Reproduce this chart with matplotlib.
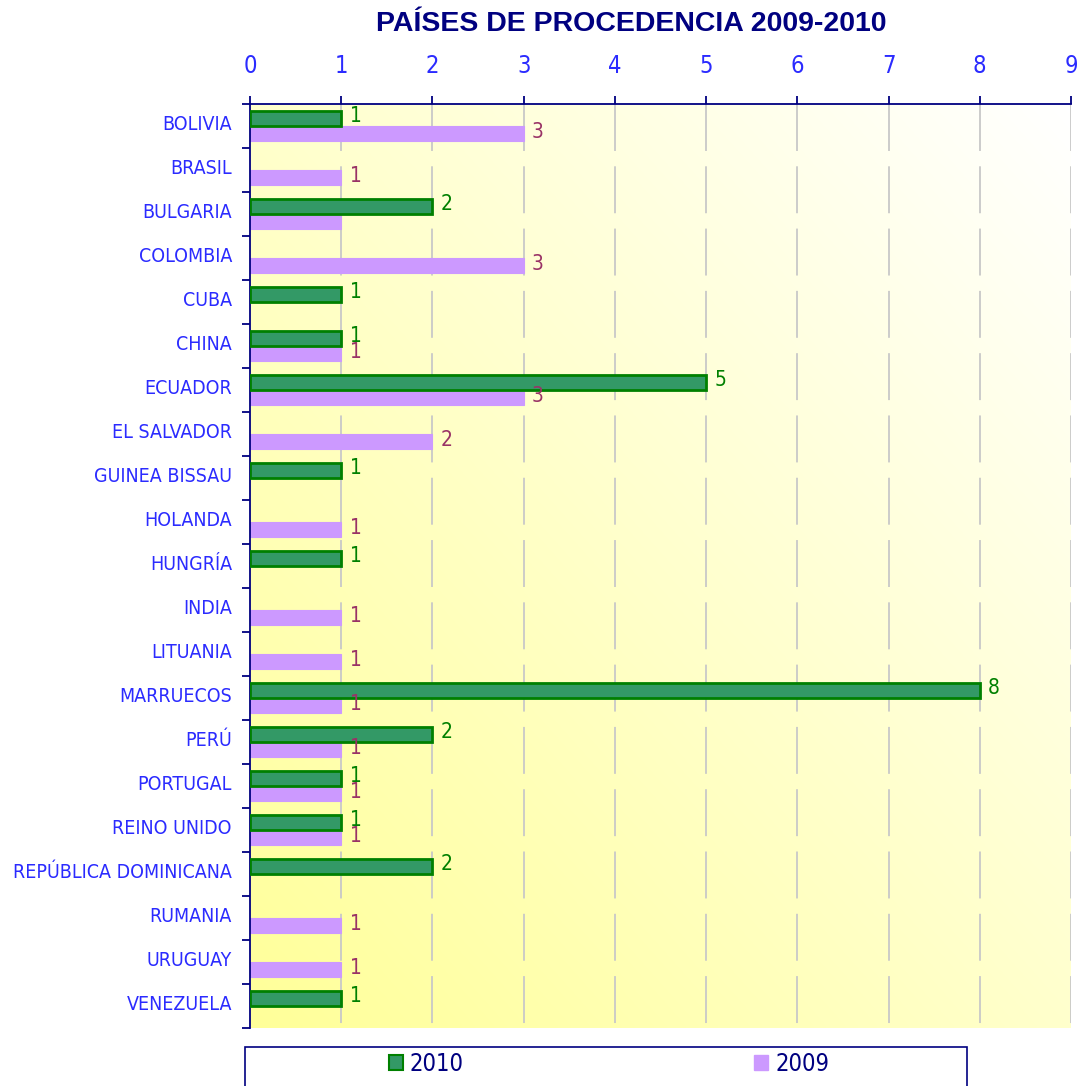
import numpy as np
import matplotlib
matplotlib.use("Agg")
import matplotlib.pyplot as plt
from matplotlib.patches import Patch, Rectangle
from matplotlib.colors import LinearSegmentedColormap
from matplotlib.transforms import ScaledTranslation

paises = [
	"BOLIVIA", "BRASIL", "BULGARIA", "COLOMBIA", "CUBA", "CHINA", "ECUADOR",
	"EL SALVADOR", "GUINEA BISSAU", "HOLANDA", "HUNGRÍA", "INDIA", "LITUANIA",
	"MARRUECOS", "PERÚ", "PORTUGAL", "REINO UNIDO", "REPÚBLICA DOMINICANA",
	"RUMANIA", "URUGUAY", "VENEZUELA",
]
v2010 = [1, 0, 2, 0, 1, 1, 5, 0, 1, 0, 1, 0, 0, 8, 2, 1, 1, 2, 0, 0, 1]
v2009 = [3, 1, 1, 3, 0, 1, 3, 2, 0, 1, 0, 1, 1, 1, 1, 1, 1, 0, 1, 1, 0]
# the 2009 label for Bulgaria does not show in the original
sin_etiqueta_2009 = ["BULGARIA"]
xticks = list(range(0, 10))

# narrow look, like the Arial Narrow of the original
plt.rcParams["font.family"] = ["DejaVu Sans"]
plt.rcParams["font.stretch"] = "condensed"

W, H = 1082, 1086
fig = plt.figure(figsize=(W/100, H/100), dpi=100)

def fx(px):
	return px/W

def fy(py):
	return 1 - py/H

ax = fig.add_axes([fx(250), fy(1028), fx(1071) - fx(250), fy(104) - fy(1028)])

n = len(paises)
y = np.arange(n)
h = 0.33

# background: diagonal gradient, yellow bottom left to white top right
cmap = LinearSegmentedColormap.from_list("fondo", ["#FFFF99", "#FFFFFF"])
gx, gy = np.meshgrid(np.linspace(0, 1, 200), np.linspace(0, 1, 200))
grad = (gx + (1 - gy))/2
ax.imshow(grad, cmap=cmap, extent=(0, 9, n - 0.5, -0.5), aspect="auto",
	zorder=0, interpolation="bilinear", vmin=0, vmax=1)

# dashed vertical gridlines, dash phase from the top
ax.vlines(xticks[1:], -0.5, n - 0.5, colors="#C8C8C8", linewidth=1.3,
	linestyles=(0, (26, 8.5)), zorder=1)

i10 = [i for i in range(n) if v2010[i] > 0]
i09 = [i for i in range(n) if v2009[i] > 0]

ax.barh(y[i09] + h/2, np.array(v2009)[i09], height=h, color="#CC99FF",
	edgecolor="#CC99FF", linewidth=0.8, zorder=2)
ax.barh(y[i10] - h/2, np.array(v2010)[i10], height=h, color="#339966",
	edgecolor="#008000", linewidth=2, zorder=3)

for i in i10:
	ax.annotate(str(v2010[i]), (v2010[i], y[i] - h/2), xytext=(6, 2),
		textcoords="offset points", va="center", ha="left",
		fontsize=15, color="#008000", zorder=5)
for i in i09:
	if paises[i] in sin_etiqueta_2009:
		continue
	ax.annotate(str(v2009[i]), (v2009[i], y[i] + h/2), xytext=(6, 1),
		textcoords="offset points", va="center", ha="left",
		fontsize=15, color="#993366", zorder=5)

ax.set_xlim(0, 9)
ax.set_ylim(n - 0.5, -0.5)

ax.xaxis.tick_top()
ax.set_xticks(xticks)
ax.set_xticklabels([str(t) for t in xticks])
ax.tick_params(axis="x", direction="out", length=6, width=1.3, color="#000080",
	labelcolor="#2B2BFF", labelsize=17, pad=13)

ax.set_yticks(y)
ax.set_yticklabels(paises)
ax.set_yticks(np.arange(n + 1) - 0.5, minor=True)
ax.tick_params(axis="y", which="major", length=0, labelcolor="#2B2BFF",
	labelsize=14, pad=13)
ax.tick_params(axis="y", which="minor", direction="out", length=6, width=1.3,
	color="#000080")
up = ScaledTranslation(0, 3/100, fig.dpi_scale_trans)
for lab in ax.get_yticklabels():
	lab.set_transform(lab.get_transform() + up)

for s in ["bottom", "right"]:
	ax.spines[s].set_visible(False)
for s in ["top", "left"]:
	ax.spines[s].set_color("#000080")
	ax.spines[s].set_linewidth(1.3)

fig.text(fx(631), fy(24), "PAÍSES DE PROCEDENCIA 2009-2010", ha="center",
	va="center", fontsize=20.5, fontweight="bold", color="#000080",
	family=["Liberation Sans", "DejaVu Sans"], fontstretch="normal")

# legend box, cut by the lower edge as in the original
fig.patches.append(Rectangle((fx(245), fy(1092)), fx(967) - fx(245),
	fy(1047) - fy(1092), transform=fig.transFigure, facecolor="white",
	edgecolor="#000080", linewidth=1.2))
handles = [
	Patch(facecolor="#339966", edgecolor="#008000", linewidth=1.5, label="2010"),
	Patch(facecolor="#CC99FF", edgecolor="#CC99FF", label="2009"),
]
leg = fig.legend(handles=handles, loc="center", bbox_to_anchor=(fx(609), fy(1064)),
	ncol=2, frameon=False, fontsize=17, handlelength=0.6, handleheight=0.6,
	handletextpad=0.3, columnspacing=12.3)
for t in leg.get_texts():
	t.set_color("#000080")

plt.savefig("out.png", dpi=100)
plt.close()
